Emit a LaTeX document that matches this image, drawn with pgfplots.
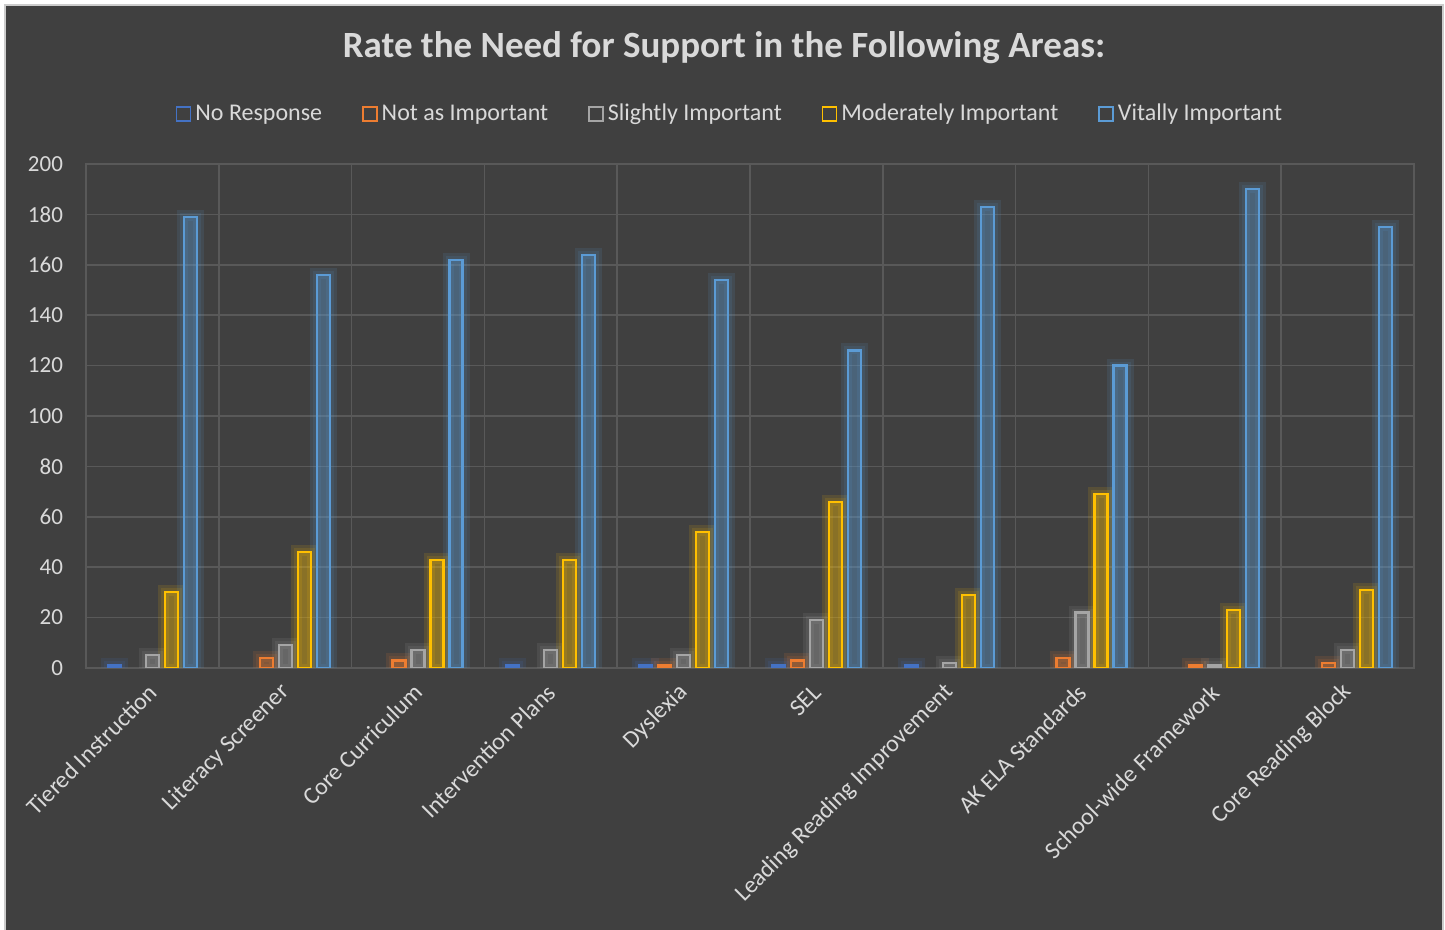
\documentclass[border=0pt]{standalone}
\usepackage{pgfplots}
\pgfplotsset{compat=1.18}
\usepackage{pgfplotstable}
\usepackage{fontspec}
\setmainfont{Carlito}

\definecolor{bg}{HTML}{404040}
\definecolor{gridc}{HTML}{595959}
\definecolor{txt}{HTML}{D9D9D9}
\definecolor{cNR}{HTML}{4472C4}
\definecolor{cNI}{HTML}{ED7D31}
\definecolor{cSI}{HTML}{A5A5A5}
\definecolor{cMI}{HTML}{FFC000}
\definecolor{cVI}{HTML}{5B9BD5}

% 0 Tiered, 1 Literacy, 2 Core Curr, 3 Intervention, 4 Dyslexia,
% 5 SEL, 6 Leading, 7 AK ELA, 8 School-wide, 9 Core Reading Block
\pgfplotstableread{
x nr ni si mi vi
0 1 0 5  30 179
1 0 4 9  46 156
2 0 3 7  43 162
3 1 0 7  43 164
4 1 1 5  54 154
5 1 3 19 66 126
6 1 0 2  29 183
7 0 4 22 69 120
8 0 1 1  23 190
9 0 2 7  31 175
}\data

\pgfplotsset{
  glow/.style n args={3}{ybar, bar width=6.5pt, bar shift=#2,
    draw=#1, draw opacity=0.12, line width=#3, fill=none, forget plot},
  barst/.style n args={2}{ybar, bar width=6.5pt, bar shift=#2,
    draw=#1, line width=1.1pt, fill=#1, fill opacity=0.3},
}

\begin{document}
\begin{tikzpicture}
\useasboundingbox (0,0) rectangle (722.5pt,465pt);
\fill[white] (0,0) rectangle (722.5pt,465pt);
\fill[bg] (2.5pt,-1pt) rectangle (721.5pt,462.5pt);
\draw[gray!40, line width=0.8pt] (2.5pt,-1pt) -- (2.5pt,462.5pt) -- (721.5pt,462.5pt) -- (721.5pt,-1pt);

\begin{axis}[
  at={(43pt,131pt)}, anchor=south west,
  scale only axis,
  width=664pt, height=252pt,
  xmin=-0.5, xmax=9.5,
  ymin=0, ymax=200,
  ytick distance=20,
  xtick={0,...,9},
  minor xtick={-0.5,0.5,...,9.5},
  xticklabels={Tiered Instruction, Literacy Screener, Core Curriculum,
    Intervention Plans, Dyslexia, SEL, Leading Reading Improvement,
    AK ELA Standards, School-wide Framework, Core Reading Block},
  xmajorgrids=false, xminorgrids=true, ymajorgrids=true,
  grid style={gridc, line width=0.8pt},
  minor grid style={gridc, line width=0.8pt},
  axis line style={gridc, line width=0.8pt},
  major tick length=0pt, minor tick length=0pt,
  tick style={draw=none},
  ticklabel style={font=\fontsize{11.5}{13}\selectfont, text=txt},
  /pgf/number format/assume math mode=true,
  yticklabel style={xshift=-8pt},
  xticklabel style={rotate=45, anchor=east, xshift=-3.6pt, yshift=-7.4pt,
    font=\fontsize{12}{14}\selectfont},
  y filter/.expression={y==0 ? nan : y},
  unbounded coords=discard,
  legend columns=5,
  legend style={at={(0.5,1)}, anchor=center, xshift=-9.5pt, yshift=25pt,
    draw=none, fill=none, text=txt,
    font=\fontsize{12}{14}\selectfont,
    /tikz/every even column/.append style={column sep=18pt}},
  legend image code/.code={\draw[#1, line width=0.8pt, fill=none, draw opacity=1]
    (0pt,-3.5pt) rectangle (7pt,3.5pt);},
]
\addplot[glow={cNR}{-19pt}{7pt}] table[x=x,y=nr]{\data};
\addplot[glow={cNI}{-9.5pt}{7pt}] table[x=x,y=ni]{\data};
\addplot[glow={cSI}{0pt}{7pt}] table[x=x,y=si]{\data};
\addplot[glow={cMI}{9.5pt}{7pt}] table[x=x,y=mi]{\data};
\addplot[glow={cVI}{19pt}{7pt}] table[x=x,y=vi]{\data};
\addplot[glow={cNR}{-19pt}{4pt}] table[x=x,y=nr]{\data};
\addplot[glow={cNI}{-9.5pt}{4pt}] table[x=x,y=ni]{\data};
\addplot[glow={cSI}{0pt}{4pt}] table[x=x,y=si]{\data};
\addplot[glow={cMI}{9.5pt}{4pt}] table[x=x,y=mi]{\data};
\addplot[glow={cVI}{19pt}{4pt}] table[x=x,y=vi]{\data};

\addplot[barst={cNR}{-19pt}] table[x=x,y=nr]{\data};
\addlegendentry{No Response}
\addplot[barst={cNI}{-9.5pt}] table[x=x,y=ni]{\data};
\addlegendentry{Not as Important}
\addplot[barst={cSI}{0pt}] table[x=x,y=si]{\data};
\addlegendentry{Slightly Important}
\addplot[barst={cMI}{9.5pt}] table[x=x,y=mi]{\data};
\addlegendentry{Moderately Important}
\addplot[barst={cVI}{19pt}] table[x=x,y=vi]{\data};
\addlegendentry{Vitally Important}
\end{axis}

\node[text=txt, font=\fontsize{18.5}{22}\selectfont\bfseries] at (362pt,441pt)
  {Rate the Need for Support in the Following Areas:};
\end{tikzpicture}
\end{document}
